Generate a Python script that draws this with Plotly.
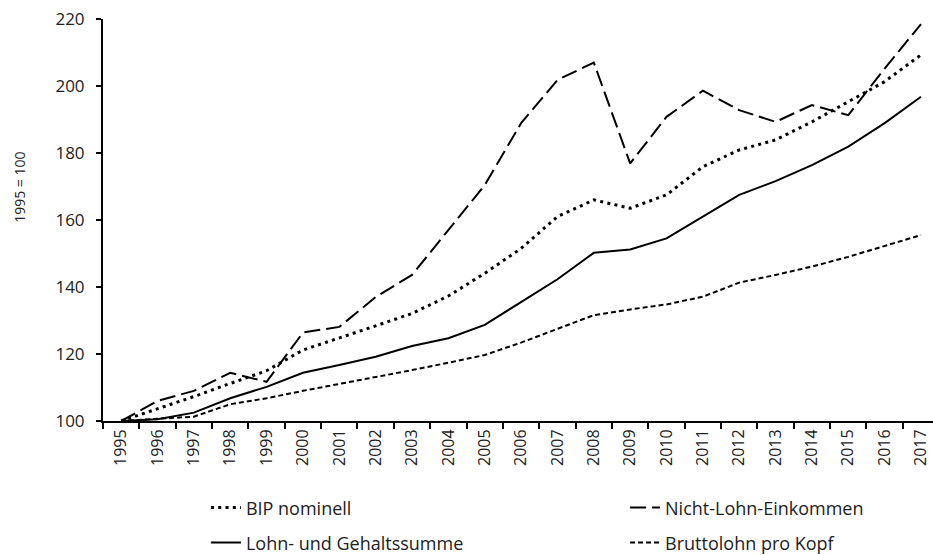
import plotly.graph_objects as go

FONT = "Open Sans"

years = [str(y) for y in range(1995, 2018)]

bip_nominell = [100, 103.6, 107.3, 111.2, 115.0, 121.2, 124.7, 128.4, 132.1, 137.3,
                144.1, 151.5, 161.0, 166.0, 163.5, 167.5, 175.9, 180.9, 183.9, 189.3,
                195.3, 201.3, 209.3]
nicht_lohn = [100, 106.0, 109.0, 114.4, 111.7, 126.4, 128.1, 137.0, 143.6, 157.0,
              170.4, 188.9, 201.8, 207.0, 176.9, 190.8, 198.6, 192.8, 189.3, 194.3,
              191.3, 205.2, 218.5]
lohn_gehalt = [100, 100.5, 102.5, 106.8, 110.2, 114.4, 116.7, 119.2, 122.4, 124.7,
               128.7, 135.6, 142.3, 150.2, 151.2, 154.5, 161.0, 167.5, 171.6, 176.4,
               181.9, 188.9, 196.8]
brutto_kopf = [100, 100.7, 101.3, 105.0, 106.8, 109.0, 111.0, 113.2, 115.2, 117.4,
               119.7, 123.4, 127.4, 131.6, 133.3, 134.8, 137.1, 141.3, 143.6, 146.1,
               149.0, 152.2, 155.5]

series = [
    ("BIP nominell", bip_nominell, 3, "3px,4.3px", "legend"),
    ("Nicht-Lohn-Einkommen", nicht_lohn, 2, "16px,6px", "legend2"),
    ("Lohn- und Gehaltssumme", lohn_gehalt, 2, "solid", "legend3"),
    ("Bruttolohn pro Kopf", brutto_kopf, 2, "5px,3px", "legend4"),
]

fig = go.Figure()
for name, vals, width, dash, leg in series:
    fig.add_trace(go.Scatter(
        x=years, y=vals, name=name, mode="lines",
        line=dict(color="black", width=width, dash=dash),
        legend=leg, showlegend=True,
    ))

legend_style = dict(font=dict(family=FONT, size=18, color="#222"),
                    bgcolor="rgba(0,0,0,0)", xanchor="left", yanchor="middle")

fig.update_layout(
    width=933, height=555,
    margin=dict(l=103, r=0, t=19, b=134, autoexpand=False),
    paper_bgcolor="white", plot_bgcolor="white",
    font=dict(family=FONT, size=17, color="#222"),
    showlegend=True,
    legend=dict(x=0.124, y=-0.216, **legend_style),
    legend2=dict(x=0.629, y=-0.216, **legend_style),
    legend3=dict(x=0.124, y=-0.303, **legend_style),
    legend4=dict(x=0.629, y=-0.303, **legend_style),
    xaxis=dict(
        type="category", range=[-0.5, 22.33], automargin=False,
        tickson="boundaries", ticks="outside", ticklen=6, tickwidth=2,
        tickcolor="black", tickangle=-90,
        showline=True, linecolor="black", linewidth=2,
        showgrid=False, zeroline=False,
        tickfont=dict(family=FONT, size=16, color="#222"),
    ),
    yaxis=dict(
        range=[100, 220], dtick=20, automargin=False,
        ticks="outside", ticklen=5, tickwidth=2, tickcolor="black",
        showline=True, linecolor="black", linewidth=2,
        showgrid=False, zeroline=False, ticklabelstandoff=8,
        tickfont=dict(family=FONT, size=17, color="#222"),
    ),
    annotations=[dict(
        text="1995 = 100", xref="paper", yref="paper",
        x=-0.1, y=0.58, xanchor="center", yanchor="middle",
        textangle=-90, showarrow=False,
        font=dict(family=FONT, size=14, color="#222"),
    )],
)

# page body has a default 8px margin; drop it so the figure fills the window
fig.write_html("out.html", config={"displayModeBar": False},
               post_script="document.body.style.margin = '0';")
